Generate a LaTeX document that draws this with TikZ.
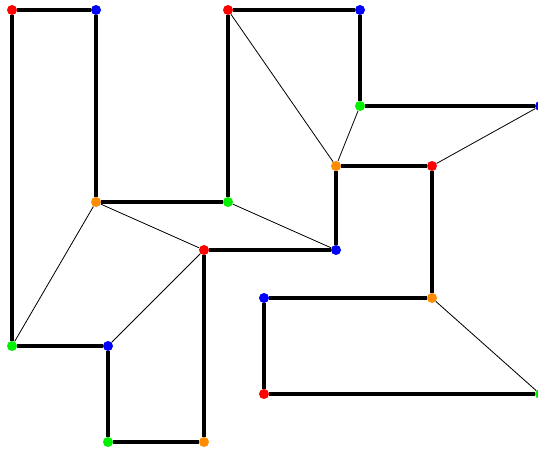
\documentclass[tikz,border=0pt]{standalone}
\usepackage{tikz}
\definecolor{dotred}{RGB}{255,0,0}
\definecolor{dotblue}{RGB}{0,0,255}
\definecolor{dotgreen}{RGB}{0,240,0}
\definecolor{dotorange}{RGB}{255,140,0}
\tikzset{dot/.style={circle, inner sep=0pt, minimum size=10pt}}

\begin{document}
\begin{tikzpicture}[x=1pt,y=-1pt]
        \useasboundingbox (0,0) rectangle (538,450);
        \coordinate (a) at (12,10);
        \coordinate (b) at (96,10);
        \coordinate (c) at (228,10);
        \coordinate (d) at (360,10);
        \coordinate (e) at (360,106);
        \coordinate (f) at (540,106);
        \coordinate (g) at (336,166);
        \coordinate (h) at (432,166);
        \coordinate (i) at (96,202);
        \coordinate (j) at (228,202);
        \coordinate (k) at (204,250);
        \coordinate (l) at (336,250);
        \coordinate (m) at (264,298);
        \coordinate (n) at (432,298);
        \coordinate (o) at (12,346);
        \coordinate (p) at (108,346);
        \coordinate (q) at (264,394);
        \coordinate (r) at (540,394);
        \coordinate (s) at (108,442);
        \coordinate (t) at (204,442);

        \node[dot, fill=dotred] (A) at (a) {};
        \node[dot, fill=dotblue] (B) at (b) {};
        \node[dot, fill=dotred] (C) at (c) {};
        \node[dot, fill=dotblue] (D) at (d) {};
        \node[dot, fill=dotgreen] (E) at (e) {};
        \node[dot, fill=dotblue] (F) at (f) {};
        \node[dot, fill=dotorange] (G) at (g) {};
        \node[dot, fill=dotred] (H) at (h) {};
        \node[dot, fill=dotorange] (I) at (i) {};
        \node[dot, fill=dotgreen] (J) at (j) {};
        \node[dot, fill=dotred] (K) at (k) {};
        \node[dot, fill=dotblue] (L) at (l) {};
        \node[dot, fill=dotblue] (M) at (m) {};
        \node[dot, fill=dotorange] (N) at (n) {};
        \node[dot, fill=dotgreen] (O) at (o) {};
        \node[dot, fill=dotblue] (P) at (p) {};
        \node[dot, fill=dotred] (Q) at (q) {};
        \node[dot, fill=dotgreen] (R) at (r) {};
        \node[dot, fill=dotgreen] (S) at (s) {};
        \node[dot, fill=dotorange] (T) at (t) {};

        % thick sides
        \path[draw, line width=3.5pt] (A) -- (B);
        \path[draw, line width=3.5pt] (A) -- (O);
        \path[draw, line width=3.5pt] (B) -- (I);
        \path[draw, line width=3.5pt] (C) -- (D);
        \path[draw, line width=3.5pt] (C) -- (J);
        \path[draw, line width=3.5pt] (D) -- (E);
        \path[draw, line width=3.5pt] (E) -- (F);
        \path[draw, line width=3.5pt] (G) -- (H);
        \path[draw, line width=3.5pt] (G) -- (L);
        \path[draw, line width=3.5pt] (H) -- (N);
        \path[draw, line width=3.5pt] (I) -- (J);
        \path[draw, line width=3.5pt] (K) -- (L);
        \path[draw, line width=3.5pt] (K) -- (T);
        \path[draw, line width=3.5pt] (M) -- (N);
        \path[draw, line width=3.5pt] (M) -- (Q);
        \path[draw, line width=3.5pt] (Q) -- (R);
        \path[draw, line width=3.5pt] (O) -- (P);
        \path[draw, line width=3.5pt] (P) -- (S);
        \path[draw, line width=3.5pt] (S) -- (T);
        % thin diagonals
        \path[draw, line width=0.8pt] (C) -- (G);
        \path[draw, line width=0.8pt] (E) -- (G);
        \path[draw, line width=0.8pt] (H) -- (F);
        \path[draw, line width=0.8pt] (I) -- (K);
        \path[draw, line width=0.8pt] (J) -- (L);
        \path[draw, line width=0.8pt] (I) -- (O);
        \path[draw, line width=0.8pt] (K) -- (P);
        \path[draw, line width=0.8pt] (N) -- (R);
    \end{tikzpicture}
\end{document}
